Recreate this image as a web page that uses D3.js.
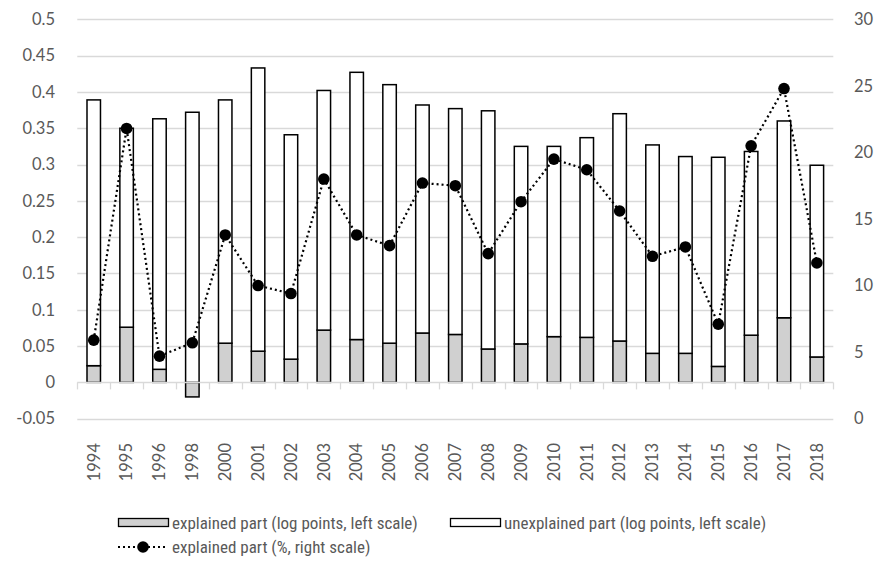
<!DOCTYPE html>
<html>
<head>
<meta charset="utf-8">
<script src="https://cdn.jsdelivr.net/npm/d3@7/dist/d3.min.js"></script>
<style>
  html, body { margin: 0; padding: 0; background: #fff; }
  svg { display: block; }
  .lbl { font-family: Lato, "Open Sans", sans-serif; fill: #595959; }
  .leg { font-family: "Liberation Sans Narrow", "Roboto Condensed", Lato, sans-serif; fill: #595959; }
</style>
</head>
<body>
<svg id="chart" width="882" height="563"></svg>
<script>
// Survey years
const years = ["1994","1995","1996","1998","2000","2001","2002","2003","2004","2005","2006","2007",
               "2008","2009","2010","2011","2012","2013","2014","2015","2016","2017","2018"];

// Explained part of the gap (log points, left scale)
const explained = [0.023,0.076,0.018,-0.020,0.054,0.043,0.032,0.072,0.059,0.054,0.068,0.066,
                   0.046,0.053,0.063,0.062,0.057,0.040,0.040,0.022,0.065,0.089,0.035];

// Unexplained part of the gap (log points, left scale)
const unexplained = [0.366,0.274,0.345,0.372,0.335,0.390,0.309,0.330,0.368,0.356,0.314,0.311,
                     0.328,0.272,0.262,0.275,0.313,0.287,0.271,0.288,0.253,0.271,0.264];

// Explained part as a share of the gap (%, right scale)
const explainedPct = [5.9,21.8,4.7,5.7,13.8,10.0,9.4,18.0,13.8,13.0,17.7,17.5,
                      12.4,16.3,19.5,18.7,15.6,12.2,12.9,7.1,20.5,24.8,11.7];

const leftTicks = [-0.05,0,0.05,0.1,0.15,0.2,0.25,0.3,0.35,0.4,0.45,0.5];
const rightTicks = [0,5,10,15,20,25,30];

const svg = d3.select("#chart");
const plot = { left: 77.3, right: 833.3, top: 19.3, bottom: 418.7 };

const x = d3.scaleBand().domain(years).range([plot.left, plot.right])
  .paddingInner(0.59).paddingOuter(0.295);
const yL = d3.scaleLinear().domain([-0.05, 0.5]).range([plot.bottom, plot.top]);
const yR = d3.scaleLinear().domain([0, 30]).range([plot.bottom, plot.top]);

// Horizontal gridlines
svg.append("g").selectAll("line").data(leftTicks.filter(d => d !== 0)).join("line")
  .attr("x1", plot.left).attr("x2", plot.right)
  .attr("y1", d => Math.round(yL(d)) + 0.5).attr("y2", d => Math.round(yL(d)) + 0.5)
  .attr("stroke", "#d9d9d9").attr("stroke-width", 1.3);

// Left axis labels
const fmt = d => d === 0 ? "0" : String(+d.toFixed(2));
svg.append("g").selectAll("text").data(leftTicks).join("text")
  .attr("class", "lbl").attr("x", 55).attr("y", d => yL(d)).attr("dy", "0.35em")
  .attr("text-anchor", "end").attr("font-size", 16.5).text(fmt);

// Right axis labels
svg.append("g").selectAll("text").data(rightTicks).join("text")
  .attr("class", "lbl").attr("x", 854).attr("y", d => yR(d)).attr("dy", "0.35em")
  .attr("text-anchor", "start").attr("font-size", 16.5).text(d => d);

// Stacked bars: positives stack up from zero, negatives hang below
const bars = svg.append("g");
years.forEach((yr, i) => {
  const e = explained[i], u = unexplained[i];
  const ePos = Math.max(e, 0);
  const x0 = x(yr), w = x.bandwidth();
  // explained
  bars.append("rect")
    .attr("x", x0).attr("width", w)
    .attr("y", yL(Math.max(e, 0))).attr("height", Math.abs(yL(0) - yL(e)))
    .attr("fill", "#d0d0d0").attr("stroke", "#000").attr("stroke-width", 1.5);
  // unexplained, stacked on the positive side
  bars.append("rect")
    .attr("x", x0).attr("width", w)
    .attr("y", yL(ePos + u)).attr("height", yL(ePos) - yL(ePos + u))
    .attr("fill", "#fff").attr("stroke", "#000").attr("stroke-width", 1.5);
});

// Zero axis line with category tick marks
const axisG = svg.append("g");
axisG.append("line").attr("x1", plot.left).attr("x2", plot.right)
  .attr("y1", Math.round(yL(0)) + 0.5).attr("y2", Math.round(yL(0)) + 0.5)
  .attr("stroke", "#d9d9d9").attr("stroke-width", 1.3);
const step = x.step();
const boundaries = d3.range(years.length + 1).map(i => plot.left + i * step);
axisG.selectAll("line.tk").data(boundaries).join("line").attr("class", "tk")
  .attr("x1", d => Math.round(d) + 0.5).attr("x2", d => Math.round(d) + 0.5)
  .attr("y1", yL(0)).attr("y2", yL(0) + 7)
  .attr("stroke", "#d9d9d9").attr("stroke-width", 1.3);

// Category labels, rotated
svg.append("g").selectAll("text").data(years).join("text")
  .attr("class", "lbl").attr("font-size", 16.5)
  .attr("transform", d => `translate(${x(d) + x.bandwidth() / 2},443) rotate(-90)`)
  .attr("text-anchor", "end").attr("dy", "0.35em").text(d => d);

// Percentage line on the right scale
const line = d3.line().x((d, i) => x(years[i]) + x.bandwidth() / 2).y(d => yR(d));
svg.append("path").datum(explainedPct).attr("d", line)
  .attr("fill", "none").attr("stroke", "#000").attr("stroke-width", 2.2)
  .attr("stroke-dasharray", "2,3");
svg.append("g").selectAll("circle").data(explainedPct).join("circle")
  .attr("cx", (d, i) => x(years[i]) + x.bandwidth() / 2).attr("cy", d => yR(d))
  .attr("r", 5.8).attr("fill", "#000");

// Legend
const leg = svg.append("g");
leg.append("rect").attr("x", 118.5).attr("y", 518.5).attr("width", 50).attr("height", 8)
  .attr("fill", "#d0d0d0").attr("stroke", "#000").attr("stroke-width", 1.3);
leg.append("text").attr("class", "leg").attr("x", 172).attr("y", 523).attr("dy", "0.35em")
  .attr("font-size", 17).text("explained part (log points, left scale)");
leg.append("rect").attr("x", 450.5).attr("y", 518.5).attr("width", 50).attr("height", 8)
  .attr("fill", "#fff").attr("stroke", "#000").attr("stroke-width", 1.3);
leg.append("text").attr("class", "leg").attr("x", 504).attr("y", 523).attr("dy", "0.35em")
  .attr("font-size", 17).text("unexplained part (log points, left scale)");
leg.append("line").attr("x1", 118).attr("x2", 168).attr("y1", 547).attr("y2", 547)
  .attr("stroke", "#000").attr("stroke-width", 2.2).attr("stroke-dasharray", "2,3");
leg.append("circle").attr("cx", 143).attr("cy", 547).attr("r", 5.8).attr("fill", "#000");
leg.append("text").attr("class", "leg").attr("x", 172).attr("y", 547).attr("dy", "0.35em")
  .attr("font-size", 17).text("explained part (%, right scale)");
</script>
</body>
</html>
